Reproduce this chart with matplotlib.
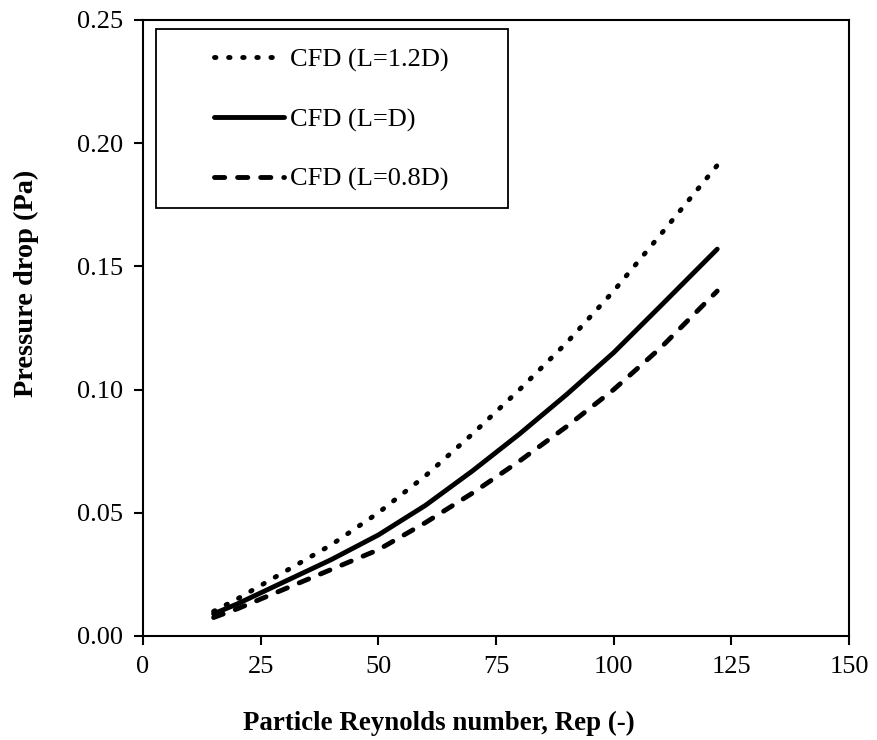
import matplotlib
matplotlib.use("Agg")
import matplotlib.pyplot as plt
from matplotlib.patches import Rectangle

# =============================================================================
# DATA
# =============================================================================
rep = [15, 20, 30, 40, 50, 60, 70, 80, 90, 100, 110, 122]
dp_l12 = [0.010, 0.015, 0.026, 0.037, 0.050, 0.065, 0.082, 0.100, 0.119, 0.140, 0.163, 0.191]
dp_l10 = [0.009, 0.013, 0.022, 0.031, 0.041, 0.053, 0.067, 0.082, 0.098, 0.115, 0.134, 0.157]
dp_l08 = [0.0075, 0.011, 0.019, 0.027, 0.035, 0.046, 0.058, 0.071, 0.085, 0.100, 0.117, 0.140]

labels = ["CFD (L=1.2D)", "CFD (L=D)", "CFD (L=0.8D)"]
x_ticks = [0, 25, 50, 75, 100, 125, 150]
y_ticks = [0.00, 0.05, 0.10, 0.15, 0.20, 0.25]

# =============================================================================
# FIGURE
# =============================================================================
plt.rcParams["font.family"] = ["Liberation Serif", "DejaVu Serif"]
plt.rcParams["font.size"] = 19

W, H = 877, 740
# axes box in pixels: left, right, top, bottom
L, R, T, B = 143, 849, 20, 636

fig = plt.figure(figsize=(W / 100, H / 100), dpi=100)
ax = fig.add_axes([L / W, (H - B) / H, (R - L) / W, (B - T) / H])


def ax_x(px):
    return (px - L) / (R - L)


def ax_y(py):
    return (B - py) / (B - T)


lw = 3.5
ax.plot(rep, dp_l12, color="black", lw=lw, linestyle=(0, (0.3, 2.6)),
        dash_capstyle="round", label=labels[0])
ax.plot(rep, dp_l10, color="black", lw=lw, solid_capstyle="round",
        label=labels[1])
ax.plot(rep, dp_l08, color="black", lw=lw, linestyle=(0, (2.1, 2.65)),
        dash_capstyle="round", label=labels[2])

ax.set_xlim(0, 150)
ax.set_ylim(0, 0.25)
ax.set_xticks(x_ticks)
ax.set_yticks(y_ticks)
ax.set_yticklabels([f"{v:.2f}" for v in y_ticks])
ax.tick_params(direction="out", length=6.5, width=1.5, pad=8,
               top=False, right=False)
for s in ax.spines.values():
    s.set_linewidth(1.5)

ax.set_xlabel("Particle Reynolds number, Rep (-)", fontweight="bold",
              fontsize=19.4)
ax.xaxis.set_label_coords(ax_x(439), ax_y(711))
ax.set_ylabel("Pressure drop (Pa)", fontweight="bold", fontsize=20.4)
ax.yaxis.set_label_coords(ax_x(39), ax_y(283))

# legend: frameless content plus a separate box (asymmetric padding)
ax.add_patch(Rectangle((ax_x(156), ax_y(208)), ax_x(508) - ax_x(156),
                       ax_y(29) - ax_y(208), transform=ax.transAxes,
                       facecolor="white", edgecolor="black", lw=1.3,
                       zorder=3))
leg = ax.legend(loc="upper left", bbox_to_anchor=(ax_x(214), ax_y(48)),
                frameon=False, borderpad=0, borderaxespad=0,
                handlelength=2.67, handletextpad=0.2, labelspacing=1.36)
leg.set_zorder(4)

fig.savefig("out.png", dpi=100)
